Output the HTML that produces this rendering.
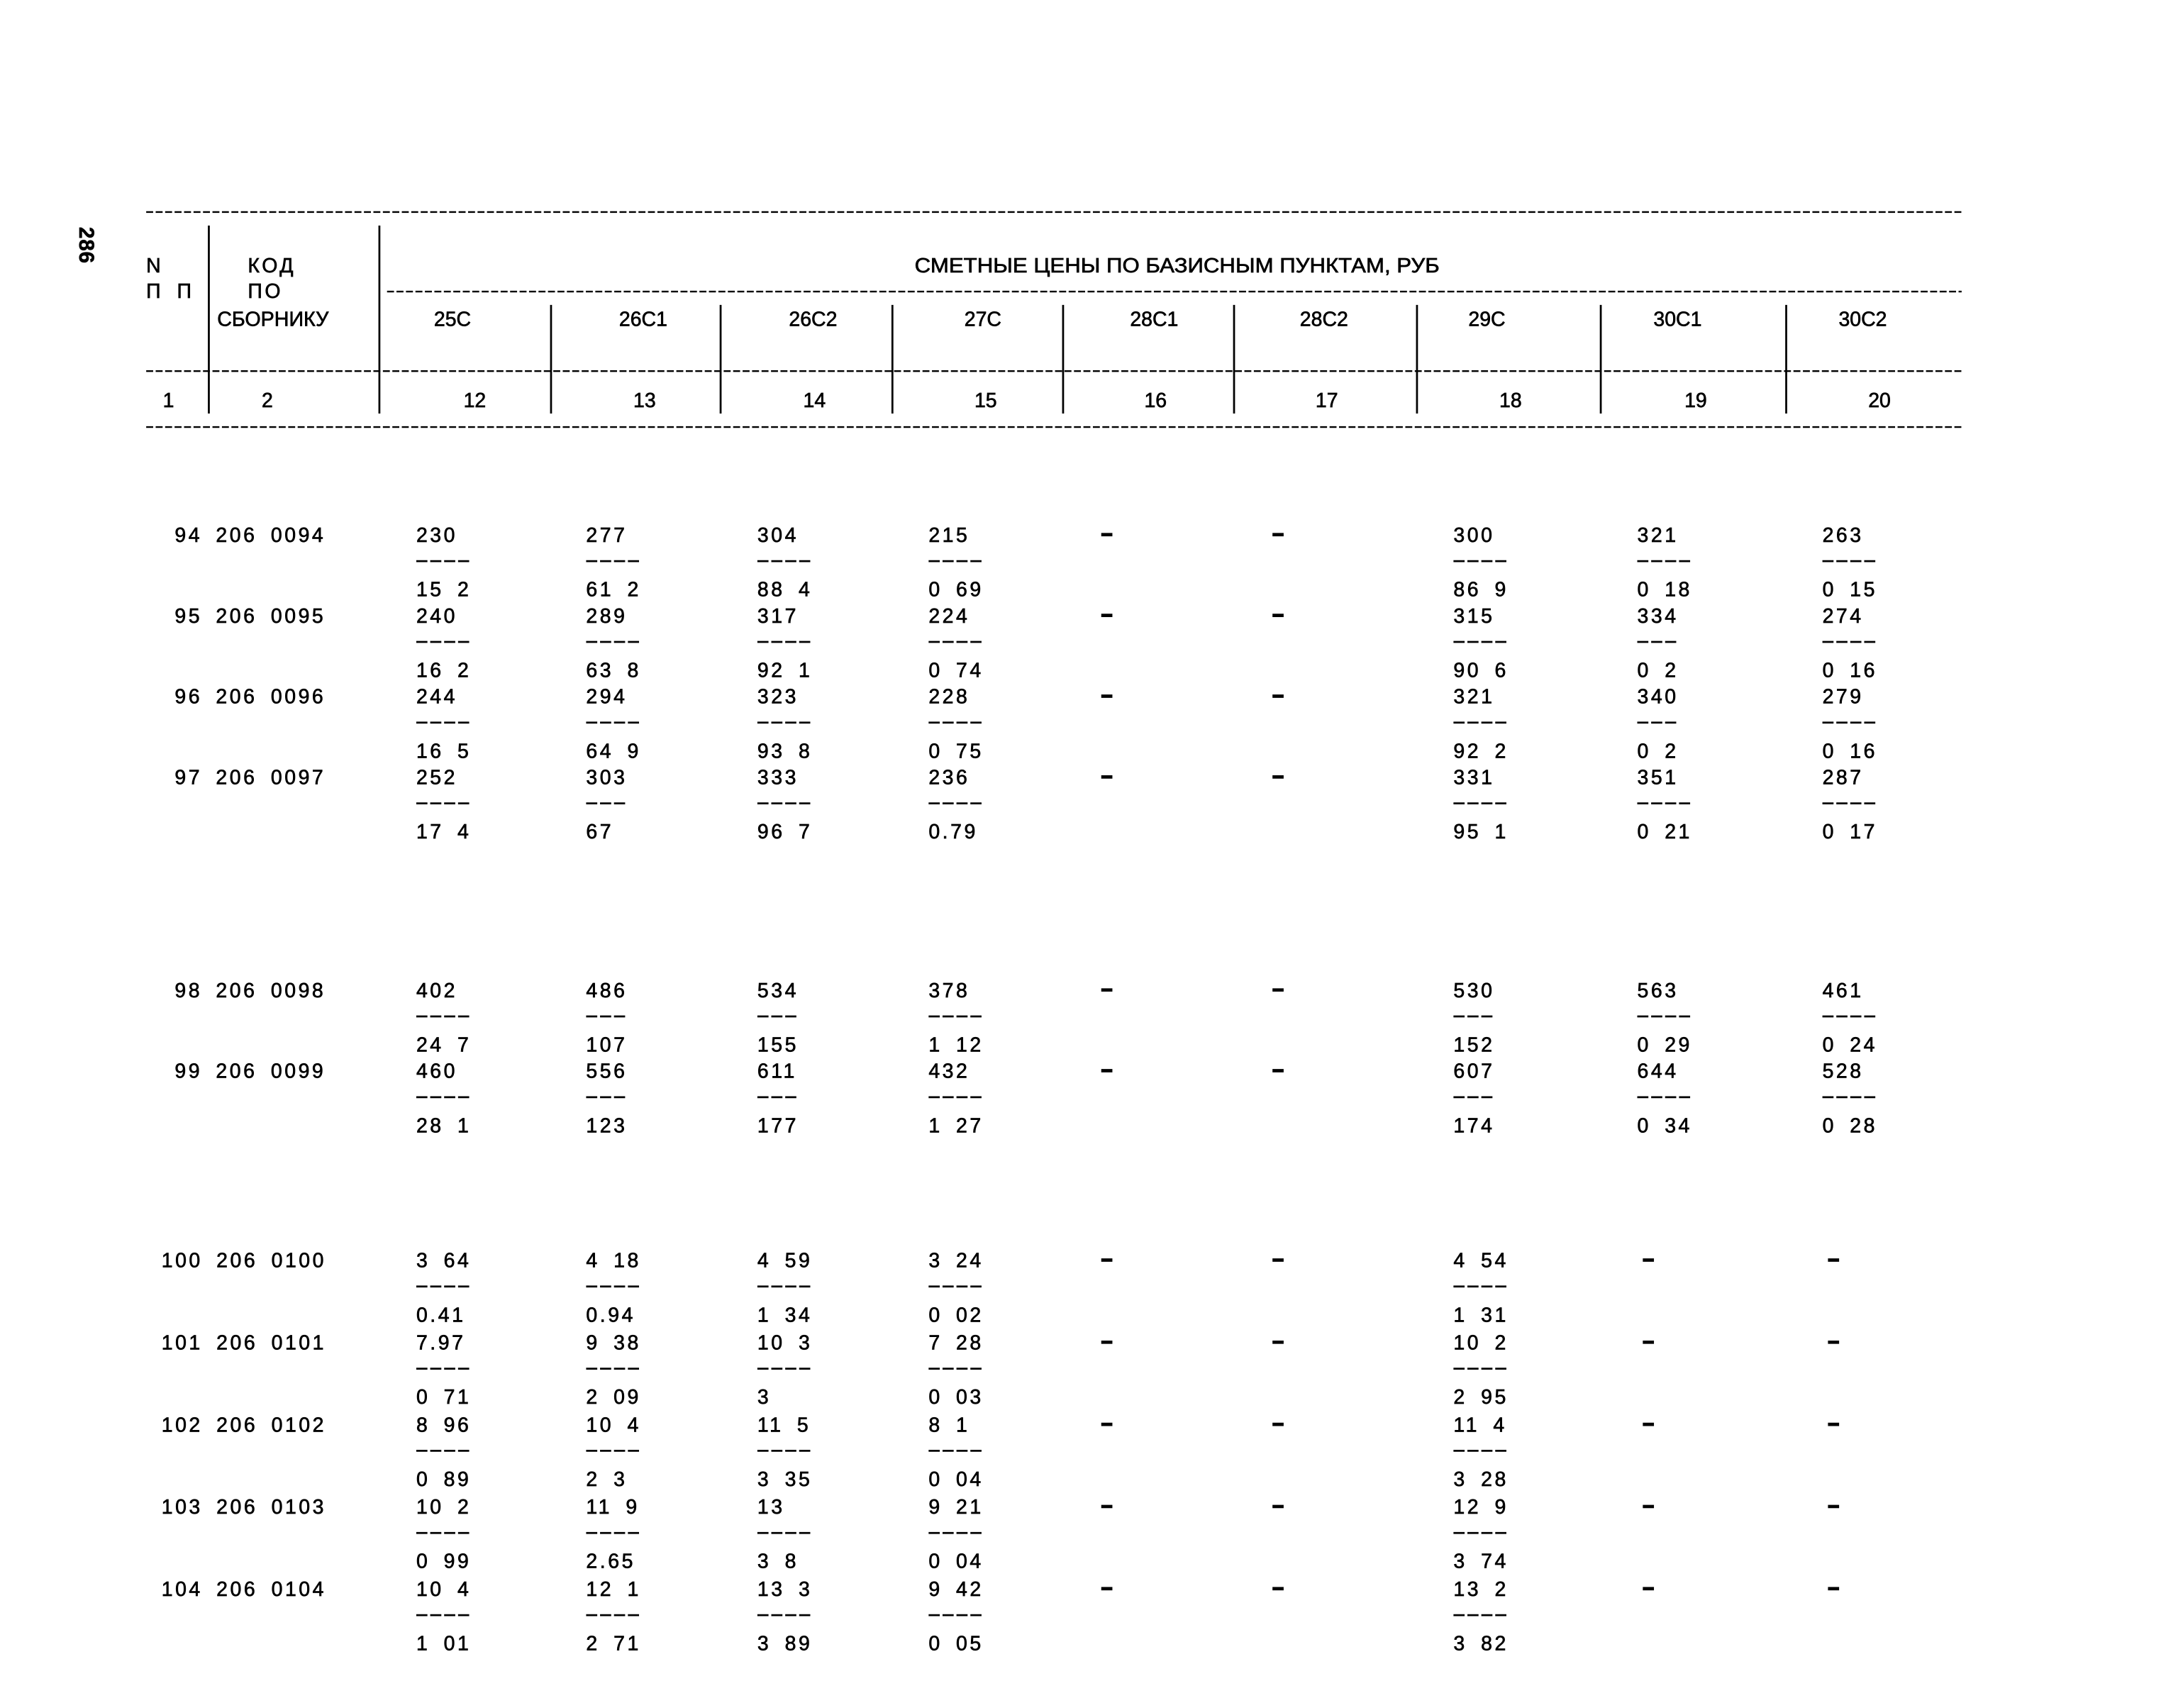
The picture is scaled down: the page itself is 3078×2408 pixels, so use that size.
<!DOCTYPE html>
<html><head><meta charset="utf-8"><style>
html,body{margin:0;padding:0;background:#fff}
svg{display:block}
text{font-family:"Liberation Sans","DejaVu Sans",sans-serif;font-size:14.5px;letter-spacing:1.8px;fill:#000;stroke:#000;stroke-width:0.35px;white-space:pre}
.h{letter-spacing:0}
</style></head><body>
<svg width="3078" height="2408" viewBox="0 0 1568 1226.7" xmlns="http://www.w3.org/2000/svg">
<rect width="1568" height="1226.7" fill="#fff"/>
<text transform="translate(57,163) rotate(90)" style="font-weight:bold;font-size:15px;letter-spacing:0.5px">286</text>
<g stroke="#000" stroke-width="1.2" stroke-dasharray="5,1.8" fill="none">
<line x1="105" y1="152.3" x2="1409" y2="152.3"/>
<line x1="278" y1="209.4" x2="1409" y2="209.4"/>
<line x1="105" y1="266.5" x2="1409" y2="266.5"/>
<line x1="105" y1="306.7" x2="1409" y2="306.7"/>
</g>
<g stroke="#000" stroke-width="1.4">
<line x1="150" y1="162" x2="150" y2="297"/>
<line x1="272.5" y1="162" x2="272.5" y2="297"/>
<line x1="395.8" y1="219" x2="395.8" y2="297"/>
<line x1="517.6" y1="219" x2="517.6" y2="297"/>
<line x1="641" y1="219" x2="641" y2="297"/>
<line x1="763.6" y1="219" x2="763.6" y2="297"/>
<line x1="886.4" y1="219" x2="886.4" y2="297"/>
<line x1="1017.8" y1="219" x2="1017.8" y2="297"/>
<line x1="1149.8" y1="219" x2="1149.8" y2="297"/>
<line x1="1283" y1="219" x2="1283" y2="297"/>
</g>
<g>
<text x="105" y="195.5">N</text>
<text x="105" y="214">П&#8199;П</text>
<text x="178" y="195.5">КОД</text>
<text x="178" y="214">ПО</text>
<text class="h" x="156" y="234" textLength="80" lengthAdjust="spacingAndGlyphs">СБОРНИКУ</text>
<text class="h" x="657" y="195.5" textLength="377" lengthAdjust="spacingAndGlyphs">СМЕТНЫЕ ЦЕНЫ ПО БАЗИСНЫМ ПУНКТАМ, РУБ</text>
</g>
<g class="h" text-anchor="middle">
<text class="h" x="325" y="234">25C</text>
<text class="h" x="462" y="234">26C1</text>
<text class="h" x="584" y="234">26C2</text>
<text class="h" x="706" y="234">27C</text>
<text class="h" x="829" y="234">28C1</text>
<text class="h" x="951" y="234">28C2</text>
<text class="h" x="1068" y="234">29C</text>
<text class="h" x="1205" y="234">30C1</text>
<text class="h" x="1338" y="234">30C2</text>
<text class="h" x="121" y="292.5">1</text>
<text class="h" x="192" y="292.5">2</text>
<text class="h" x="341" y="292.5">12</text>
<text class="h" x="463" y="292.5">13</text>
<text class="h" x="585" y="292.5">14</text>
<text class="h" x="708" y="292.5">15</text>
<text class="h" x="830" y="292.5">16</text>
<text class="h" x="953" y="292.5">17</text>
<text class="h" x="1085" y="292.5">18</text>
<text class="h" x="1218" y="292.5">19</text>
<text class="h" x="1350" y="292.5">20</text>
</g>

<g>
<text x="125.5" y="389.2">94&#8199;206&#8199;0094</text>
<text x="125.5" y="447.2">95&#8199;206&#8199;0095</text>
<text x="125.5" y="505.2">96&#8199;206&#8199;0096</text>
<text x="125.5" y="563.2">97&#8199;206&#8199;0097</text>
<text x="125.5" y="716.2">98&#8199;206&#8199;0098</text>
<text x="125.5" y="774.2">99&#8199;206&#8199;0099</text>
<text x="116" y="910.2">100&#8199;206&#8199;0100</text>
<text x="116" y="969.2">101&#8199;206&#8199;0101</text>
<text x="116" y="1028.2">102&#8199;206&#8199;0102</text>
<text x="116" y="1087.2">103&#8199;206&#8199;0103</text>
<text x="116" y="1146.2">104&#8199;206&#8199;0104</text>
</g>

<g>
<text x="299" y="389.2">230</text><text x="299" y="428.2">15&#8199;2</text>
<text x="421" y="389.2">277</text><text x="421" y="428.2">61&#8199;2</text>
<text x="544" y="389.2">304</text><text x="544" y="428.2">88&#8199;4</text>
<text x="667" y="389.2">215</text><text x="667" y="428.2">0&#8199;69</text>
<text x="1044" y="389.2">300</text><text x="1044" y="428.2">86&#8199;9</text>
<text x="1176" y="389.2">321</text><text x="1176" y="428.2">0&#8199;18</text>
<text x="1309" y="389.2">263</text><text x="1309" y="428.2">0&#8199;15</text>
<text x="299" y="447.2">240</text><text x="299" y="486.2">16&#8199;2</text>
<text x="421" y="447.2">289</text><text x="421" y="486.2">63&#8199;8</text>
<text x="544" y="447.2">317</text><text x="544" y="486.2">92&#8199;1</text>
<text x="667" y="447.2">224</text><text x="667" y="486.2">0&#8199;74</text>
<text x="1044" y="447.2">315</text><text x="1044" y="486.2">90&#8199;6</text>
<text x="1176" y="447.2">334</text><text x="1176" y="486.2">0&#8199;2</text>
<text x="1309" y="447.2">274</text><text x="1309" y="486.2">0&#8199;16</text>
<text x="299" y="505.2">244</text><text x="299" y="544.2">16&#8199;5</text>
<text x="421" y="505.2">294</text><text x="421" y="544.2">64&#8199;9</text>
<text x="544" y="505.2">323</text><text x="544" y="544.2">93&#8199;8</text>
<text x="667" y="505.2">228</text><text x="667" y="544.2">0&#8199;75</text>
<text x="1044" y="505.2">321</text><text x="1044" y="544.2">92&#8199;2</text>
<text x="1176" y="505.2">340</text><text x="1176" y="544.2">0&#8199;2</text>
<text x="1309" y="505.2">279</text><text x="1309" y="544.2">0&#8199;16</text>
<text x="299" y="563.2">252</text><text x="299" y="602.2">17&#8199;4</text>
<text x="421" y="563.2">303</text><text x="421" y="602.2">67</text>
<text x="544" y="563.2">333</text><text x="544" y="602.2">96&#8199;7</text>
<text x="667" y="563.2">236</text><text x="667" y="602.2">0.79</text>
<text x="1044" y="563.2">331</text><text x="1044" y="602.2">95&#8199;1</text>
<text x="1176" y="563.2">351</text><text x="1176" y="602.2">0&#8199;21</text>
<text x="1309" y="563.2">287</text><text x="1309" y="602.2">0&#8199;17</text>
<text x="299" y="716.2">402</text><text x="299" y="755.2">24&#8199;7</text>
<text x="421" y="716.2">486</text><text x="421" y="755.2">107</text>
<text x="544" y="716.2">534</text><text x="544" y="755.2">155</text>
<text x="667" y="716.2">378</text><text x="667" y="755.2">1&#8199;12</text>
<text x="1044" y="716.2">530</text><text x="1044" y="755.2">152</text>
<text x="1176" y="716.2">563</text><text x="1176" y="755.2">0&#8199;29</text>
<text x="1309" y="716.2">461</text><text x="1309" y="755.2">0&#8199;24</text>
<text x="299" y="774.2">460</text><text x="299" y="813.2">28&#8199;1</text>
<text x="421" y="774.2">556</text><text x="421" y="813.2">123</text>
<text x="544" y="774.2">611</text><text x="544" y="813.2">177</text>
<text x="667" y="774.2">432</text><text x="667" y="813.2">1&#8199;27</text>
<text x="1044" y="774.2">607</text><text x="1044" y="813.2">174</text>
<text x="1176" y="774.2">644</text><text x="1176" y="813.2">0&#8199;34</text>
<text x="1309" y="774.2">528</text><text x="1309" y="813.2">0&#8199;28</text>
<text x="299" y="910.2">3&#8199;64</text><text x="299" y="949.2">0.41</text>
<text x="421" y="910.2">4&#8199;18</text><text x="421" y="949.2">0.94</text>
<text x="544" y="910.2">4&#8199;59</text><text x="544" y="949.2">1&#8199;34</text>
<text x="667" y="910.2">3&#8199;24</text><text x="667" y="949.2">0&#8199;02</text>
<text x="1044" y="910.2">4&#8199;54</text><text x="1044" y="949.2">1&#8199;31</text>
<text x="299" y="969.2">7.97</text><text x="299" y="1008.2">0&#8199;71</text>
<text x="421" y="969.2">9&#8199;38</text><text x="421" y="1008.2">2&#8199;09</text>
<text x="544" y="969.2">10&#8199;3</text><text x="544" y="1008.2">3</text>
<text x="667" y="969.2">7&#8199;28</text><text x="667" y="1008.2">0&#8199;03</text>
<text x="1044" y="969.2">10&#8199;2</text><text x="1044" y="1008.2">2&#8199;95</text>
<text x="299" y="1028.2">8&#8199;96</text><text x="299" y="1067.2">0&#8199;89</text>
<text x="421" y="1028.2">10&#8199;4</text><text x="421" y="1067.2">2&#8199;3</text>
<text x="544" y="1028.2">11&#8199;5</text><text x="544" y="1067.2">3&#8199;35</text>
<text x="667" y="1028.2">8&#8199;1</text><text x="667" y="1067.2">0&#8199;04</text>
<text x="1044" y="1028.2">11&#8199;4</text><text x="1044" y="1067.2">3&#8199;28</text>
<text x="299" y="1087.2">10&#8199;2</text><text x="299" y="1126.2">0&#8199;99</text>
<text x="421" y="1087.2">11&#8199;9</text><text x="421" y="1126.2">2.65</text>
<text x="544" y="1087.2">13</text><text x="544" y="1126.2">3&#8199;8</text>
<text x="667" y="1087.2">9&#8199;21</text><text x="667" y="1126.2">0&#8199;04</text>
<text x="1044" y="1087.2">12&#8199;9</text><text x="1044" y="1126.2">3&#8199;74</text>
<text x="299" y="1146.2">10&#8199;4</text><text x="299" y="1185.2">1&#8199;01</text>
<text x="421" y="1146.2">12&#8199;1</text><text x="421" y="1185.2">2&#8199;71</text>
<text x="544" y="1146.2">13&#8199;3</text><text x="544" y="1185.2">3&#8199;89</text>
<text x="667" y="1146.2">9&#8199;42</text><text x="667" y="1185.2">0&#8199;05</text>
<text x="1044" y="1146.2">13&#8199;2</text><text x="1044" y="1185.2">3&#8199;82</text>
</g>

<g stroke="#000" stroke-width="1.4" stroke-dasharray="8,2">
<path d="M299 403h40M421 403h40M544 403h40M667 403h40M1044 403h40M1176 403h40M1309 403h40
M299 461h40M421 461h40M544 461h40M667 461h40M1044 461h40M1176 461h30M1309 461h40
M299 519h40M421 519h40M544 519h40M667 519h40M1044 519h40M1176 519h30M1309 519h40
M299 577h40M421 577h30M544 577h40M667 577h40M1044 577h40M1176 577h40M1309 577h40
M299 730h40M421 730h30M544 730h30M667 730h40M1044 730h30M1176 730h40M1309 730h40
M299 788h40M421 788h30M544 788h30M667 788h40M1044 788h30M1176 788h40M1309 788h40
M299 924h40M421 924h40M544 924h40M667 924h40M1044 924h40
M299 983h40M421 983h40M544 983h40M667 983h40M1044 983h40
M299 1042h40M421 1042h40M544 1042h40M667 1042h40M1044 1042h40
M299 1101h40M421 1101h40M544 1101h40M667 1101h40M1044 1101h40
M299 1160h40M421 1160h40M544 1160h40M667 1160h40M1044 1160h40"/>
</g>

<g stroke="#000" stroke-width="2.4">
<path d="M791 384h8M914 384h8M791 442h8M914 442h8M791 500h8M914 500h8M791 558h8M914 558h8
M791 711h8M914 711h8M791 769h8M914 769h8
M791 905h8M914 905h8M1180 905h8M1313 905h8
M791 964h8M914 964h8M1180 964h8M1313 964h8
M791 1023h8M914 1023h8M1180 1023h8M1313 1023h8
M791 1082h8M914 1082h8M1180 1082h8M1313 1082h8
M791 1141h8M914 1141h8M1180 1141h8M1313 1141h8"/>
</g>
</svg>
</body></html>
